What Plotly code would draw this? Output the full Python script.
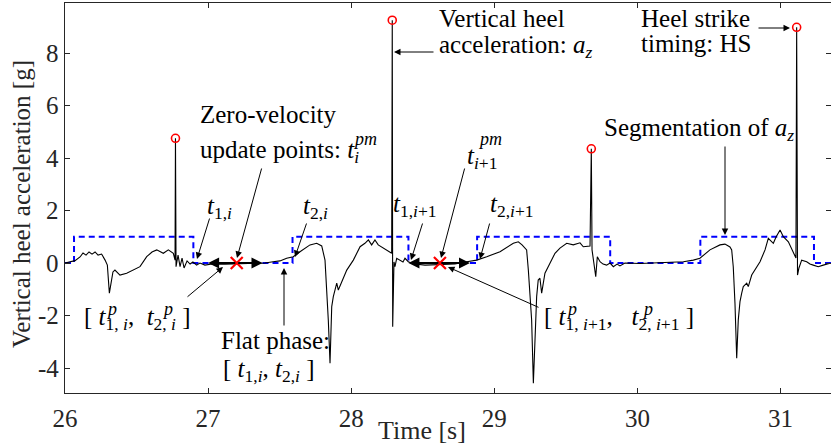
import plotly.graph_objects as go

# ---------------- data ----------------
time_s = [26.000, 26.070, 26.105, 26.126, 26.147, 26.168, 26.189, 26.210, 26.231, 26.256,
          26.280, 26.296, 26.310, 26.321, 26.335, 26.349, 26.363, 26.384, 26.431, 26.475,
          26.524, 26.571, 26.608, 26.641, 26.664, 26.687, 26.722, 26.757, 26.769, 26.772,
          26.776, 26.790, 26.804, 26.818, 26.832, 26.853, 26.874, 26.894, 26.920, 26.943,
          26.978, 27.027, 27.118, 27.223, 27.328, 27.398, 27.454, 27.502, 27.549, 27.595,
          27.642, 27.677, 27.712, 27.759, 27.794, 27.817, 27.829, 27.840, 27.852, 27.864,
          27.875, 27.899, 27.910, 27.934, 27.969, 28.015, 28.062, 28.096, 28.120, 28.143,
          28.166, 28.189, 28.224, 28.259, 28.283, 28.287, 28.290, 28.299, 28.306, 28.318,
          28.341, 28.362, 28.376, 28.399, 28.423, 28.446, 28.516, 28.621, 28.725, 28.807,
          28.877, 28.947, 29.040, 29.133, 29.168, 29.194, 29.226, 29.238, 29.261, 29.273,
          29.284, 29.296, 29.307, 29.319, 29.331, 29.354, 29.389, 29.424, 29.459, 29.506,
          29.552, 29.599, 29.622, 29.669, 29.678, 29.683, 29.709, 29.720, 29.739, 29.760,
          29.785, 29.809, 29.832, 29.858, 29.878, 29.913, 30.018, 30.158, 30.263, 30.321,
          30.391, 30.437, 30.507, 30.577, 30.612, 30.647, 30.659, 30.670, 30.682, 30.694,
          30.705, 30.717, 30.729, 30.740, 30.764, 30.775, 30.799, 30.829, 30.857, 30.892,
          30.915, 30.950, 30.969, 30.997, 31.020, 31.055, 31.089, 31.108, 31.113, 31.119,
          31.129, 31.148, 31.183, 31.206, 31.229, 31.264, 31.299, 31.346]
accel_g = [0.00, 0.09, 0.23, 0.38, 0.30, 0.42, 0.34, 0.42, 0.30, 0.34,
           0.11, -0.08, -1.15, -0.84, -0.34, -0.27, -0.34, -0.46, -0.39, -0.27,
           -0.14, 0.24, 0.42, 0.50, 0.42, 0.37, 0.50, 0.37, 0.11, 4.75,
           -0.14, 0.30, -0.14, 0.19, -0.19, 0.08, -0.04, 0.04, -0.08, 0.00,
           -0.08, -0.04, -0.05, -0.04, -0.02, 0.00, 0.05, 0.08, 0.18, 0.24,
           0.43, 0.57, 0.69, 0.75, 0.65, 0.11, -0.90, -2.17, -3.82, -1.66,
           -1.28, -0.77, -1.03, -0.71, -0.27, 0.11, 0.62, 0.75, 0.88, 0.69,
           0.88, 0.69, 0.56, 0.43, 0.37, 9.25, -2.43, 0.04, -0.14, 0.18,
           0.11, 0.04, 0.18, 0.05, -0.01, -0.04, -0.08, -0.06, -0.04, 0.05,
           0.11, 0.24, 0.43, 0.75, 0.81, 0.69, 0.50, -0.27, -2.17, -4.58,
           -2.55, -1.28, -0.65, -0.58, -1.15, -0.39, -0.01, 0.37, 0.57, 0.75,
           0.69, 0.77, 0.62, 0.65, 4.35, 0.50, -0.52, 0.24, 0.05, -0.04,
           -0.08, 0.00, -0.14, -0.04, -0.11, 0.00, -0.02, 0.00, 0.04, 0.05,
           0.11, 0.18, 0.50, 0.69, 0.72, 0.61, 0.50, -0.14, -1.54, -3.63,
           -2.17, -1.47, -1.15, -0.90, -0.77, -0.90, -0.46, -0.19, 0.05, 0.50,
           0.94, 0.75, 0.99, 1.26, 1.00, 0.81, 0.37, 0.19, 8.98, -0.46,
           -0.19, 0.11, 0.05, -0.04, -0.08, -0.14, -0.08, -0.01]

# segmentation of a_z (step function, value held until next edge)
seg_t = [26.000, 26.063, 26.897, 27.590, 28.400, 28.880, 29.810, 30.440, 31.234, 31.360]
seg_v = [0, 1, 0, 1, 0, 1, 0, 1, 0, 0]

# heel strike timings (HS)
hs_t = [26.772, 28.287, 29.678, 31.113]
hs_a = [4.75, 9.25, 4.35, 8.98]

# zero-velocity update points t^pm and flat-phase intervals [t^p_1, t^p_2]
zupt_t = [27.20, 28.62]
zupt_a = [0.0, 0.0]
flat_t1 = [27.00, 28.40]
flat_t2 = [27.38, 28.83]

x_ticks = [26, 27, 28, 29, 30, 31]
y_ticks = [-4, -2, 0, 2, 4, 6, 8]
y_tick_labels = ["-4", "-2", "0", "2", "4", "6", "8"]

# ---------------- layout helpers ----------------
W, H = 831, 448
ML, MR, MT, MB = 65, 0, 3, 55
X_RANGE = [26.0, 31.353]
Y_RANGE = [-4.952, 9.905]
PW, PH = W - ML - MR, H - MT - MB


def P(px, py):
    """pixel position in the page -> data coordinates"""
    x = X_RANGE[0] + (px - ML) / PW * (X_RANGE[1] - X_RANGE[0])
    y = Y_RANGE[1] - (py - MT) / PH * (Y_RANGE[1] - Y_RANGE[0])
    return x, y


FONT = "Liberation Serif"
FS = 25
AX_COL = "#262626"

fig = go.Figure()

fig.add_trace(go.Scatter(x=seg_t, y=seg_v, mode="lines", line_shape="hv",
                         line=dict(color="#0000FF", width=2, dash="6px,4px"),
                         hoverinfo="skip", showlegend=False))
fig.add_trace(go.Scatter(x=time_s, y=accel_g, mode="lines",
                         line=dict(color="black", width=1.1),
                         showlegend=False))
fig.add_trace(go.Scatter(x=hs_t, y=hs_a, mode="markers",
                         marker=dict(symbol="circle-open", size=8, color="#FF0000",
                                     line=dict(width=1.6, color="#FF0000")),
                         showlegend=False))

annotations = []

# thick double arrows of the flat phases
for zt, za, t1, t2 in zip(zupt_t, zupt_a, flat_t1, flat_t2):
    for end in (t1, t2):
        annotations.append(dict(x=end, y=za, ax=zt, ay=za, xref="x", yref="y",
                                axref="x", ayref="y", text="", showarrow=True,
                                arrowhead=2, arrowsize=1.0, arrowwidth=2.2,
                                arrowcolor="black", standoff=0, startstandoff=0))

fig.add_trace(go.Scatter(x=zupt_t, y=zupt_a, mode="markers",
                         marker=dict(symbol="x-thin", size=12, color="#FF0000",
                                     line=dict(width=2.2, color="#FF0000")),
                         showlegend=False))

# thin annotation arrows: (tail px, head px)
arrows = [
    ((262, 167), (237, 258)),
    ((210, 217), (197, 259)),
    ((307, 222), (295, 257)),
    ((284, 327), (284, 268)),
    ((186, 298), (223, 267)),
    ((423, 222), (411, 260)),
    ((465, 167), (441, 258)),
    ((490, 222), (480, 259)),
    ((540, 308), (448, 267)),
    ((435, 52), (394, 52)),
    ((757, 28), (790, 28)),
    ((725, 145), (725, 235)),
]
for (tx, ty), (hx, hy) in arrows:
    ax_, ay_ = P(tx, ty)
    x_, y_ = P(hx, hy)
    annotations.append(dict(x=x_, y=y_, ax=ax_, ay=ay_, xref="x", yref="y",
                            axref="x", ayref="y", text="", showarrow=True,
                            arrowhead=2, arrowsize=1.3, arrowwidth=1,
                            arrowcolor="black", standoff=0, startstandoff=0))

# text labels: (text, left px, middle px, size)
texts = [
    ("Zero-velocity", 198, 114, FS),
    ("update points: <i>t</i><sub><i>i</i></sub>", 198, 151, FS),
    ("<i>pm</i>", 351, 139, 18),
    ("<i>t</i><sub>1,<i>i</i></sub>", 205, 207, FS),
    ("<i>t</i><sub>2,<i>i</i></sub>", 301, 207, FS),
    ("<i>t</i><sub>1,<i>i</i>+1</sub>", 391, 205, FS),
    ("<i>t</i><sub><i>i</i>+1</sub>", 465, 157, FS),
    ("<i>pm</i>", 476, 139, 18),
    ("<i>t</i><sub>2,<i>i</i>+1</sub>", 488, 205, FS),
    ("Vertical heel", 437, 18, FS),
    ("acceleration: <i>a</i><sub><i>z</i></sub>", 437, 46, FS),
    ("Heel strike", 639, 18, FS),
    ("timing: HS", 639, 43, FS),
    ("Segmentation of <i>a</i><sub><i>z</i></sub>", 602, 129, FS),
    ("[ <i>t</i><sub>1, <i>i</i></sub>,  <i>t</i><sub>2, <i>i</i></sub> ]", 82, 318, FS),
    ("<i>p</i>", 104, 309, 18),
    ("<i>p</i>", 160, 309, 18),
    ("Flat phase:", 219, 340, FS),
    ("[ <i>t</i><sub>1,<i>i</i></sub>, <i>t</i><sub>2,<i>i</i></sub> ]", 221, 370, FS),
    ("[ <i>t</i><sub>1, <i>i</i>+1</sub>,   <i>t</i><sub>2, <i>i</i>+1</sub> ]", 542, 318, FS),
    ("<i>p</i>", 564, 309, 18),
    ("<i>p</i>", 640, 309, 18),
]
for txt, lx, my, fs in texts:
    x_, y_ = P(lx, my)
    annotations.append(dict(x=x_, y=y_, xref="x", yref="y", text=txt, showarrow=False,
                            xanchor="left", yanchor="middle",
                            font=dict(family=FONT, size=fs, color="black")))

# y tick labels, right-aligned just left of the axis (MATLAB style)
for val, lab in zip(y_ticks, y_tick_labels):
    annotations.append(dict(x=0, y=val, xref="paper", yref="y", text=lab,
                            showarrow=False, xanchor="right", yanchor="middle",
                            xshift=-4,
                            font=dict(family=FONT, size=FS, color=AX_COL)))

# axis titles
annotations.append(dict(x=(422 - ML) / PW, y=0.0, xref="paper", yref="paper",
                        yshift=-(430 - (MT + PH)), text="Time [s]", showarrow=False,
                        xanchor="center", yanchor="middle",
                        font=dict(family=FONT, size=26, color=AX_COL)))
annotations.append(dict(x=0, y=(MT + PH - 204) / PH, xref="paper", yref="paper",
                        xshift=-(ML - 22),
                        text="Vertical heel acceleration [g]", showarrow=False,
                        textangle=-90, xanchor="center", yanchor="middle",
                        font=dict(family=FONT, size=FS, color=AX_COL)))

axis_common = dict(showgrid=False, zeroline=False, showline=True, linecolor=AX_COL,
                   linewidth=1, mirror="ticks", ticks="inside", ticklen=5,
                   tickwidth=1, tickcolor=AX_COL,
                   tickfont=dict(family=FONT, size=FS, color=AX_COL))

fig.update_layout(
    width=W, height=H,
    margin=dict(l=ML, r=MR, t=MT, b=MB, pad=0),
    paper_bgcolor="white", plot_bgcolor="white",
    showlegend=False,
    xaxis=dict(range=X_RANGE, tickvals=x_ticks, ticklabelstandoff=3, **axis_common),
    yaxis=dict(range=Y_RANGE, tickvals=y_ticks, showticklabels=False, **axis_common),
    annotations=annotations,
)

fig.write_html("out.html", config={"displayModeBar": False},
               post_script="document.body.style.margin='0px';")
